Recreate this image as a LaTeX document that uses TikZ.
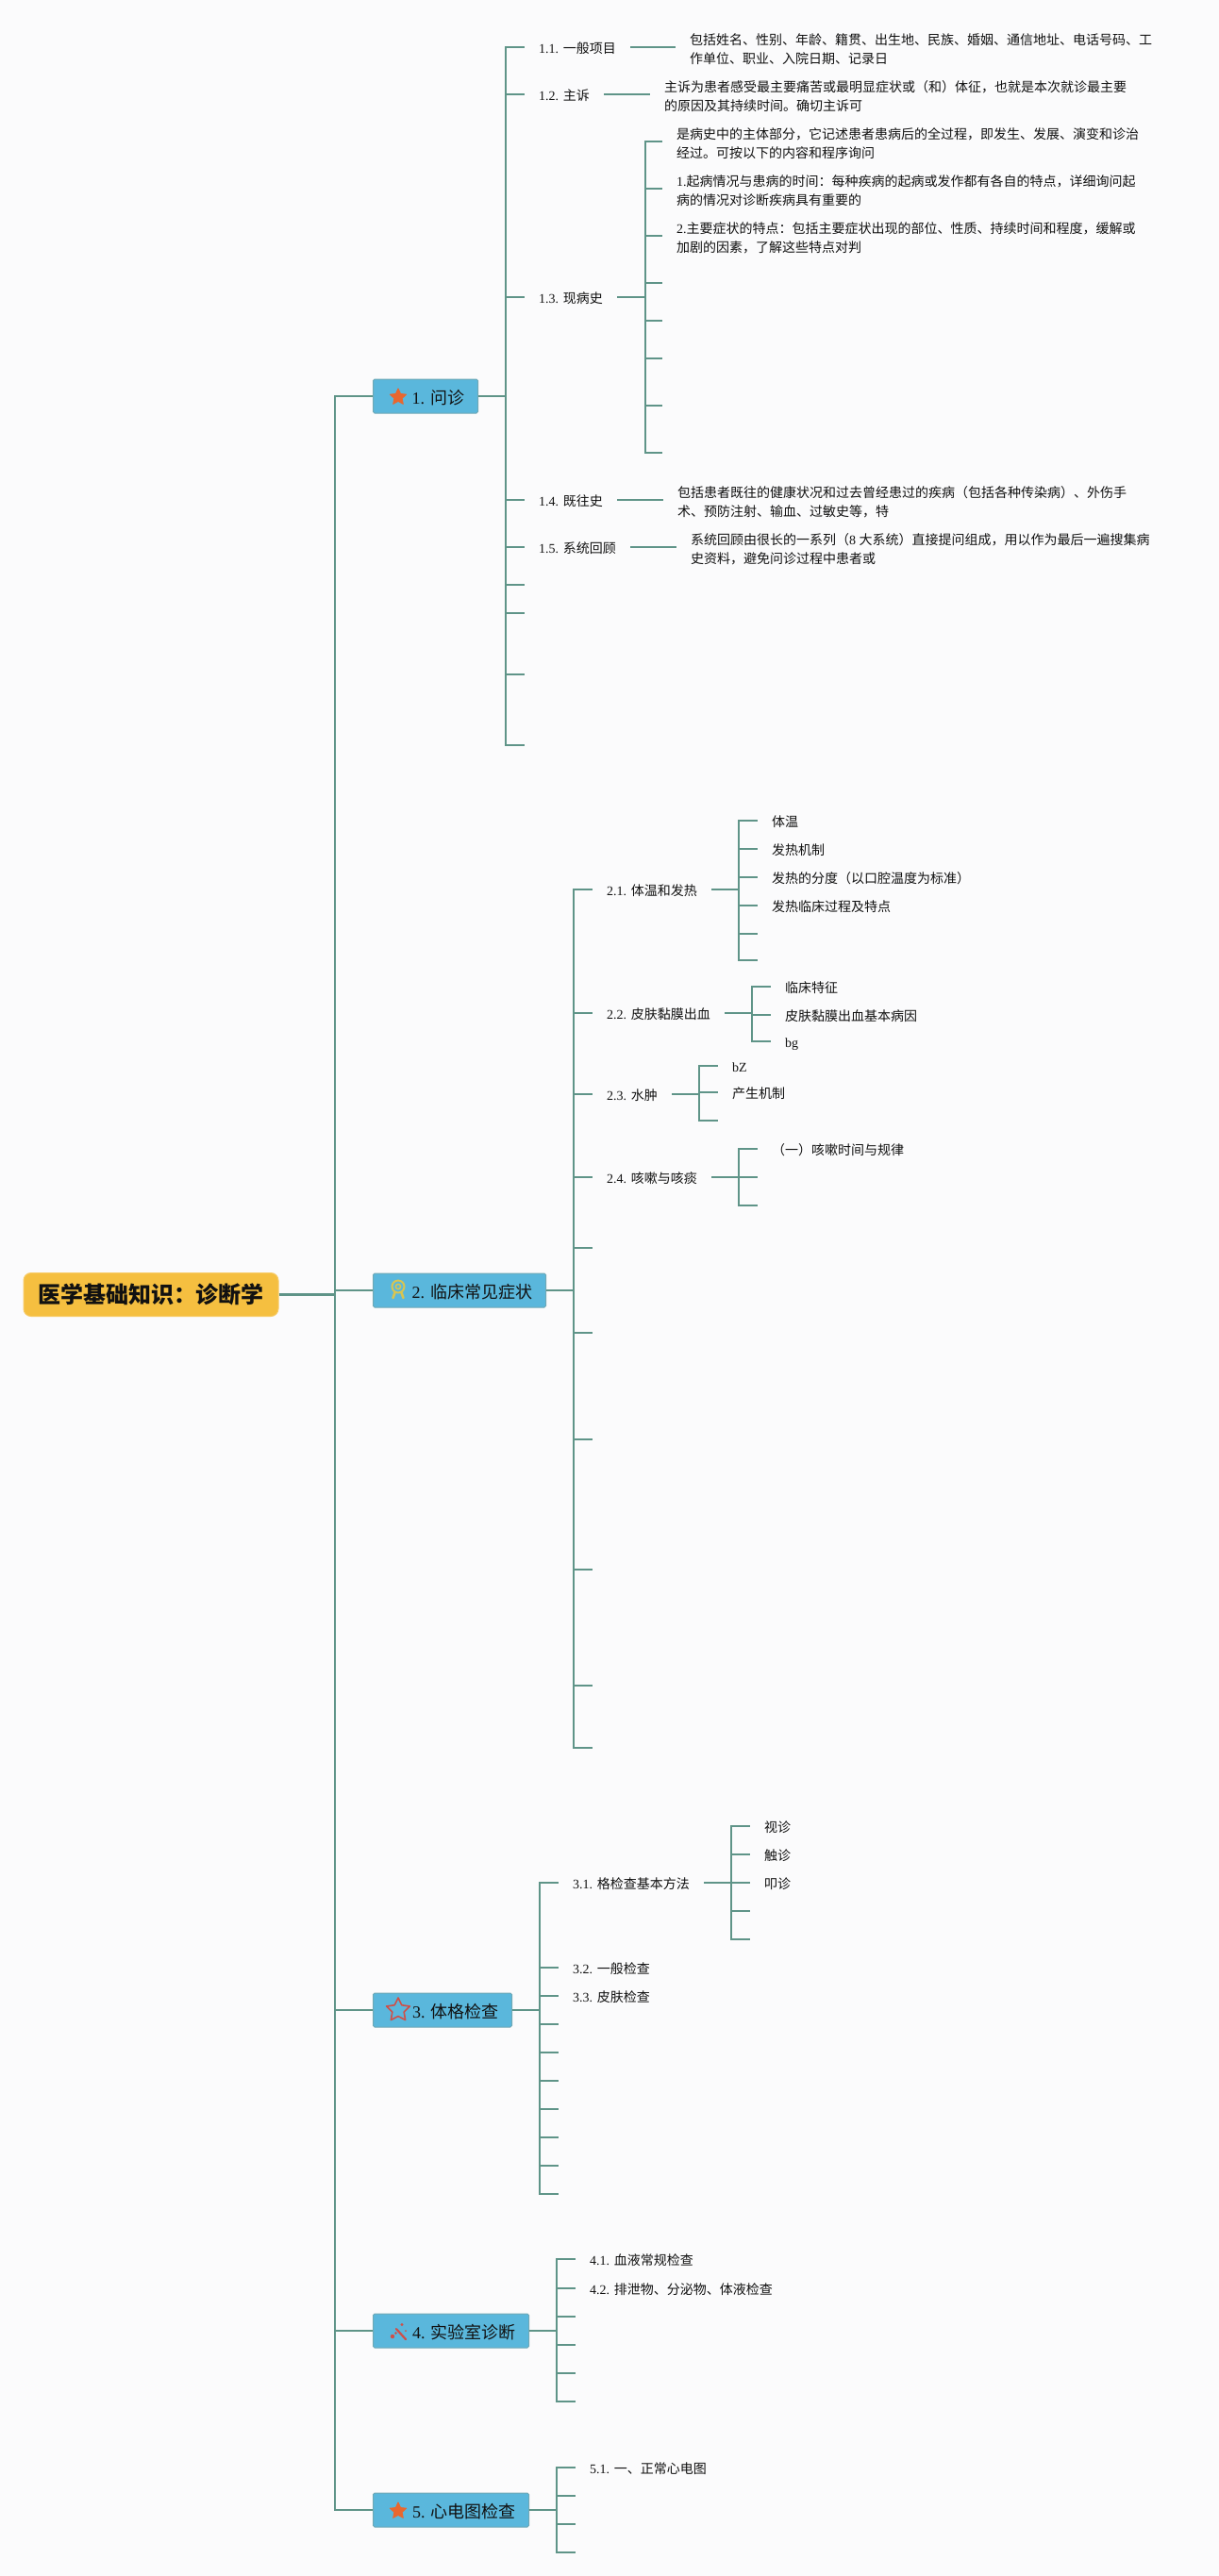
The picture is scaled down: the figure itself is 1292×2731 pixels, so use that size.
\documentclass[tikz,border=0pt]{standalone}
\usepackage{fontspec}
\usetikzlibrary{shapes.geometric}
\setmainfont{Liberation Serif}
\newfontfamily\cjk{Noto Sans CJK SC}
\newcommand{\C}[1]{{\cjk #1}}
\newcommand{\onel}[1]{\rule{0pt}{18.6pt}\rule[-6pt]{0pt}{6pt}#1}
\newcommand{\twol}[2]{\rule{0pt}{20.6pt}\C{#1}\\\C{#2}\rule[-6pt]{0pt}{6pt}}
\definecolor{lnc}{HTML}{5F9488}
\definecolor{bgc}{HTML}{FBFBFC}
\definecolor{boxc}{HTML}{5AB7DC}
\definecolor{boxl}{HTML}{6FA8B5}
\definecolor{rootc}{HTML}{F5BF40}
\definecolor{rootl}{HTML}{F7CB66}
\definecolor{txtc}{HTML}{111111}
\definecolor{orangeic}{HTML}{E8672F}
\definecolor{redic}{HTML}{CF4F48}
\definecolor{yelic}{HTML}{D8C552}
\tikzset{
  ln/.style={draw=lnc,line width=2.3pt},
  trunk/.style={draw=lnc,line width=2.3pt,line cap=rect},
  item/.style={anchor=west,inner xsep=15pt,inner ysep=0pt,align=left,text=txtc,font=\fontsize{14}{20}\selectfont},
  topicbox/.style={anchor=west,rectangle,rounded corners=1.5pt,fill=boxc,draw=boxl,line width=1pt,minimum height=36pt,inner sep=0pt},
  boxtext/.style={anchor=base west,inner sep=0pt,text=txtc,font=\fontsize{18}{22}\selectfont},
  rootbox/.style={rectangle,rounded corners=8pt,fill=rootc,draw=rootl,line width=1pt,minimum width=270pt,minimum height=46pt,inner sep=0pt,text=txtc,font=\fontsize{24}{28}\selectfont},
  starfill/.style={star,star points=5,star point ratio=2.1,minimum size=18pt,inner sep=0pt,fill=orangeic,draw=orangeic,line width=1pt,line join=round},
  staropen/.style={star,star points=5,star point ratio=2.0,minimum size=26pt,inner sep=0pt,draw=redic,line width=1.6pt,line join=round},
}
\begin{document}
\begin{tikzpicture}[x=1pt,y=-1pt]
\useasboundingbox (0,0) rectangle (1292,2731);
\fill[bgc] (0,0) rectangle (1292,2731);

% Root and main trunk
\node[rootbox] (root) at (160,1372.5) {\cjk\bfseries 医学基础知识：诊断学};
\coordinate (T) at (355,1372.5);

% Topic boxes
\node[topicbox,minimum width=111pt] (b1) at (395,420) {};
\node[topicbox,minimum width=183pt] (b2) at (395,1368) {};
\node[topicbox,minimum width=147pt] (b3) at (395,2131) {};
\node[topicbox,minimum width=165pt] (b4) at (395,2471) {};
\node[topicbox,minimum width=165pt] (b5) at (395,2661) {};
\node[boxtext] (l1) at (436.5,428) {1. \C{问诊}};
\node[boxtext] (l2) at (436.5,1376) {2. \C{临床常见症状}};
\node[boxtext] (l3) at (437,2139) {3. \C{体格检查}};
\node[boxtext] (l4) at (437,2479) {4. \C{实验室诊断}};
\node[boxtext] (l5) at (437,2669) {5. \C{心电图检查}};

% Icons
\node[starfill] (i1) at (422,421) {};
\node[starfill] (i5) at (422,2662) {};
\node[staropen] (i3) at (422,2131) {};
\draw[yelic,line width=2pt] (422,1364) circle (6.5pt);
\draw[yelic,line width=1.5pt] (422,1364) circle (2.6pt);
\draw[yelic,line width=2.6pt,line cap=round] (418.5,1370.5) -- (416.5,1376);
\draw[yelic,line width=2.6pt,line cap=round] (425.5,1370.5) -- (427.5,1376);
\draw[redic,line width=2.2pt,line cap=round] (420,2469) -- (430,2480);
\fill[redic] (426,2464.5) circle (1.7pt);
\fill[redic] (416,2477) circle (2.2pt);
\fill[redic] (419.5,2473.5) circle (1.4pt);
\fill[redic] (430,2471) circle (1pt);

\draw[ln] (root.east) -- (T);
\draw[trunk] (T |- b1.east) -- (T |- b5.east);
\foreach \b in {b1,b2,b3,b4,b5} {\draw[ln] (T |- \b.west) -- (\b.west);}

% ---------- Section 1
\coordinate (t1) at (536,420);
\draw[ln] (b1.east) -- (t1);
\node[item] (n11) at (556,50) {\onel{1.1. \C{一般项目}}};
\node[item] (n12) at (556,100) {\onel{1.2. \C{主诉}}};
\node[item] (n13) at (556,315) {\onel{1.3. \C{现病史}}};
\node[item] (n14) at (556,530) {\onel{1.4. \C{既往史}}};
\node[item] (n15) at (556,580) {\onel{1.5. \C{系统回顾}}};
\node[item] (d11) at (716,50) {\twol{包括姓名、性别、年龄、籍贯、出生地、民族、婚姻、通信地址、电话号码、工}{作单位、职业、入院日期、记录日}};
\node[item] (d12) at (689,100) {\twol{主诉为患者感受最主要痛苦或最明显症状或（和）体征，也就是本次就诊最主要}{的原因及其持续时间。确切主诉可}};
\node[item] (d14) at (703,530) {\twol{包括患者既往的健康状况和过去曾经患过的疾病（包括各种传染病）、外伤手}{术、预防注射、输血、过敏史等，特}};
\node[item] (d15) at (717,580) {\rule{0pt}{20.6pt}\C{系统回顾由很长的一系列（}8 \C{大系统）直接提问组成，用以作为最后一遍搜集病}\\\C{史资料，避免问诊过程中患者或}\rule[-6pt]{0pt}{6pt}};
\foreach \a/\z in {n11/d11,n12/d12,n14/d14,n15/d15} {\draw[ln] (\a.east) -- (\z.west);}
\foreach \a in {n11,n12,n13,n14,n15} {\draw[ln] (t1 |- \a.west) -- (\a.west);}
\foreach \n/\y in {a/620,b/650,c/715,d/790} {
  \coordinate (e1\n) at (556,\y);
  \draw[ln] (t1 |- e1\n) -- (e1\n);
}
\draw[trunk] (t1 |- n11.west) -- (t1 |- e1d);

% 1.3 children
\coordinate (t13) at (684,315);
\draw[ln] (n13.east) -- (t13);
\node[item] (p1) at (702,150) {\twol{是病史中的主体部分，它记述患者患病后的全过程，即发生、发展、演变和诊治}{经过。可按以下的内容和程序询问}};
\node[item] (p2) at (702,200) {\rule{0pt}{20.6pt}1.\C{起病情况与患病的时间：每种疾病的起病或发作都有各自的特点，详细询问起}\\\C{病的情况对诊断疾病具有重要的}\rule[-6pt]{0pt}{6pt}};
\node[item] (p3) at (702,250) {\rule{0pt}{20.6pt}2.\C{主要症状的特点：包括主要症状出现的部位、性质、持续时间和程度，缓解或}\\\C{加剧的因素，了解这些特点对判}\rule[-6pt]{0pt}{6pt}};
\foreach \a in {p1,p2,p3} {\draw[ln] (t13 |- \a.west) -- (\a.west);}
\foreach \n/\y in {a/300,b/340,c/380,d/430,e/480} {
  \coordinate (e13\n) at (702,\y);
  \draw[ln] (t13 |- e13\n) -- (e13\n);
}
\draw[trunk] (t13 |- p1.west) -- (t13 |- e13e);

% ---------- Section 2
\coordinate (t2) at (608,1368);
\draw[ln] (b2.east) -- (t2);
\node[item] (n21) at (628,943) {\onel{2.1. \C{体温和发热}}};
\node[item] (n22) at (628,1074) {\onel{2.2. \C{皮肤黏膜出血}}};
\node[item] (n23) at (628,1160) {\onel{2.3. \C{水肿}}};
\node[item] (n24) at (628,1248) {\onel{2.4. \C{咳嗽与咳痰}}};
\foreach \a in {n21,n22,n23,n24} {\draw[ln] (t2 |- \a.west) -- (\a.west);}
\foreach \n/\y in {a/1323,b/1413,c/1526,d/1664,e/1787,f/1853} {
  \coordinate (e2\n) at (628,\y);
  \draw[ln] (t2 |- e2\n) -- (e2\n);
}
\draw[trunk] (t2 |- n21.west) -- (t2 |- e2f);

% 2.1
\coordinate (t21) at (783,943);
\draw[ln] (n21.east) -- (t21);
\node[item] (q1) at (803,870) {\onel{\C{体温}}};
\node[item] (q2) at (803,900) {\onel{\C{发热机制}}};
\node[item] (q3) at (803,930) {\onel{\C{发热的分度（以口腔温度为标准）}}};
\node[item] (q4) at (803,960) {\onel{\C{发热临床过程及特点}}};
\foreach \a in {q1,q2,q3,q4} {\draw[ln] (t21 |- \a.west) -- (\a.west);}
\foreach \n/\y in {a/990,b/1018} {
  \coordinate (e21\n) at (803,\y);
  \draw[ln] (t21 |- e21\n) -- (e21\n);
}
\draw[trunk] (t21 |- q1.west) -- (t21 |- e21b);

% 2.2
\coordinate (t22) at (797,1074);
\draw[ln] (n22.east) -- (t22);
\node[item] (r1) at (817,1046) {\onel{\C{临床特征}}};
\node[item] (r2) at (817,1076) {\onel{\C{皮肤黏膜出血基本病因}}};
\node[item] (r3) at (817,1104) {\onel{bg}};
\foreach \a in {r1,r2,r3} {\draw[ln] (t22 |- \a.west) -- (\a.west);}
\draw[trunk] (t22 |- r1.west) -- (t22 |- r3.west);

% 2.3
\coordinate (t23) at (741,1160);
\draw[ln] (n23.east) -- (t23);
\node[item] (s1) at (761,1130) {\onel{bZ}};
\node[item] (s2) at (761,1158) {\onel{\C{产生机制}}};
\coordinate (s3) at (761,1188);
\foreach \a in {s1,s2} {\draw[ln] (t23 |- \a.west) -- (\a.west);}
\draw[ln] (t23 |- s3) -- (s3);
\draw[trunk] (t23 |- s1.west) -- (t23 |- s3);

% 2.4
\coordinate (t24) at (783,1248);
\draw[ln] (n24.east) -- (t24);
\node[item] (u1) at (803,1218) {\onel{\C{（一）咳嗽时间与规律}}};
\coordinate (u2) at (803,1248);
\coordinate (u3) at (803,1278);
\draw[ln] (t24 |- u1.west) -- (u1.west);
\draw[ln] (t24 |- u2) -- (u2);
\draw[ln] (t24 |- u3) -- (u3);
\draw[trunk] (t24 |- u1.west) -- (t24 |- u3);

% ---------- Section 3
\coordinate (t3) at (572,2131);
\draw[ln] (b3.east) -- (t3);
\node[item] (n31) at (592,1996) {\onel{3.1. \C{格检查基本方法}}};
\node[item] (n32) at (592,2086) {\onel{3.2. \C{一般检查}}};
\node[item] (n33) at (592,2116) {\onel{3.3. \C{皮肤检查}}};
\foreach \a in {n31,n32,n33} {\draw[ln] (t3 |- \a.west) -- (\a.west);}
\foreach \n/\y in {a/2146,b/2176,c/2206,d/2236,e/2266,f/2296,g/2326} {
  \coordinate (e3\n) at (592,\y);
  \draw[ln] (t3 |- e3\n) -- (e3\n);
}
\draw[trunk] (t3 |- n31.west) -- (t3 |- e3g);

\coordinate (t31) at (775,1996);
\draw[ln] (n31.east) -- (t31);
\node[item] (v1) at (795,1936) {\onel{\C{视诊}}};
\node[item] (v2) at (795,1966) {\onel{\C{触诊}}};
\node[item] (v3) at (795,1996) {\onel{\C{叩诊}}};
\foreach \a in {v1,v2,v3} {\draw[ln] (t31 |- \a.west) -- (\a.west);}
\foreach \n/\y in {a/2026,b/2056} {
  \coordinate (e31\n) at (795,\y);
  \draw[ln] (t31 |- e31\n) -- (e31\n);
}
\draw[trunk] (t31 |- v1.west) -- (t31 |- e31b);

% ---------- Section 4
\coordinate (t4) at (590,2471);
\draw[ln] (b4.east) -- (t4);
\node[item] (n41) at (610,2395) {\onel{4.1. \C{血液常规检查}}};
\node[item] (n42) at (610,2426) {\onel{4.2. \C{排泄物、分泌物、体液检查}}};
\foreach \a in {n41,n42} {\draw[ln] (t4 |- \a.west) -- (\a.west);}
\foreach \n/\y in {a/2456,b/2486,c/2516,d/2546} {
  \coordinate (e4\n) at (610,\y);
  \draw[ln] (t4 |- e4\n) -- (e4\n);
}
\draw[trunk] (t4 |- n41.west) -- (t4 |- e4d);

% ---------- Section 5
\coordinate (t5) at (590,2661);
\draw[ln] (b5.east) -- (t5);
\node[item] (n51) at (610,2616) {\onel{5.1. \C{一、正常心电图}}};
\draw[ln] (t5 |- n51.west) -- (n51.west);
\foreach \n/\y in {a/2646,b/2676,c/2706} {
  \coordinate (e5\n) at (610,\y);
  \draw[ln] (t5 |- e5\n) -- (e5\n);
}
\draw[trunk] (t5 |- n51.west) -- (t5 |- e5c);
\end{tikzpicture}
\end{document}
